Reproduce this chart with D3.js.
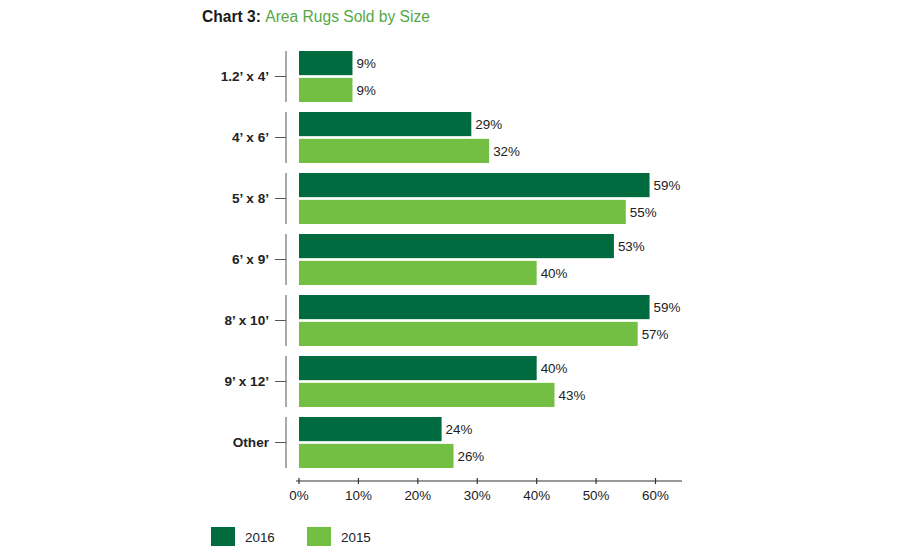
<!DOCTYPE html>
<html>
<head>
<meta charset="utf-8">
<script src="https://cdn.jsdelivr.net/npm/d3@7"></script>
<style>
  body { margin: 0; background: #fff; }
  text { font-family: "Liberation Sans", Arial, Helvetica, sans-serif; }
</style>
</head>
<body>
<div id="chart"></div>
<script>
// data
let categories = ["1.2\u2019 x 4\u2019", "4\u2019 x 6\u2019", "5\u2019 x 8\u2019", "6\u2019 x 9\u2019", "8\u2019 x 10\u2019", "9\u2019 x 12\u2019", "Other"];
let seriesNames = ["2016", "2015"];
let values2016 = [9, 29, 59, 53, 59, 40, 24];
let values2015 = [9, 32, 55, 40, 57, 43, 26];
let xTicks = [0, 10, 20, 30, 40, 50, 60];

let colors = {"2016": "#006b3f", "2015": "#72bf44"};

let w = 900, h = 550;

let svg = d3.select("#chart")
    .append("svg")
    .attr("width", w)
    .attr("height", h);

// title
let title = svg.append("text")
    .attr("x", 202)
    .attr("y", 22)
    .style("font-size", "15.6px");
title.append("tspan").text("Chart 3: ").attr("font-weight", "bold").attr("fill", "#1a1a1a");
title.append("tspan").text("Area Rugs Sold by Size").attr("fill", "#55a946");

let xScale = d3.scaleLinear()
    .domain([0, 60])
    .range([299, 655.5]);

let step = 61;
let yScale = d3.scaleBand()
    .domain(categories)
    .range([46, 46 + step * categories.length])
    .paddingInner(10 / step)
    .paddingOuter(5 / step);

let sub = d3.scaleBand()
    .domain(seriesNames)
    .range([0, yScale.bandwidth()])
    .paddingInner(0.1);

let rows = categories.map((c, i) => ({
    cat: c,
    vals: [{key: "2016", value: values2016[i]}, {key: "2015", value: values2015[i]}]
}));

let groups = svg.append("g")
    .selectAll("g")
    .data(rows)
    .join("g")
    .attr("transform", d => "translate(0," + yScale(d.cat) + ")");

groups.selectAll("rect")
    .data(d => d.vals)
    .join("rect")
    .attr("x", xScale(0))
    .attr("y", d => sub(d.key))
    .attr("width", d => xScale(d.value) - xScale(0))
    .attr("height", sub.bandwidth())
    .attr("fill", d => colors[d.key]);

groups.selectAll("text.val")
    .data(d => d.vals)
    .join("text")
    .attr("class", "val")
    .attr("x", d => xScale(d.value) + 4)
    .attr("y", d => sub(d.key) + sub.bandwidth() / 2)
    .attr("dy", "0.36em")
    .style("font-size", "13.4px")
    .attr("fill", "#222")
    .text(d => d.value + "%");

// category brackets
groups.append("line")
    .attr("x1", 286).attr("x2", 286)
    .attr("y1", 0).attr("y2", yScale.bandwidth())
    .attr("stroke", "#555").attr("stroke-width", 1);

groups.append("line")
    .attr("x1", 275).attr("x2", 286)
    .attr("y1", yScale.bandwidth() / 2).attr("y2", yScale.bandwidth() / 2)
    .attr("stroke", "#555").attr("stroke-width", 1);

groups.append("text")
    .attr("x", 269)
    .attr("y", yScale.bandwidth() / 2)
    .attr("dy", "0.36em")
    .attr("text-anchor", "end")
    .attr("font-weight", "bold")
    .style("font-size", "13.6px")
    .attr("fill", "#222")
    .text(d => d.cat);

// x axis
let xaxis = svg.append("g")
    .attr("id", "x-axis")
    .attr("transform", "translate(0,481)");

xaxis.append("line")
    .attr("x1", 296).attr("x2", 682)
    .attr("stroke", "#333").attr("stroke-width", 1.2);

xaxis.selectAll("line.tick")
    .data(xTicks)
    .join("line")
    .attr("class", "tick")
    .attr("x1", d => xScale(d)).attr("x2", d => xScale(d))
    .attr("y1", -3).attr("y2", 3)
    .attr("stroke", "#333").attr("stroke-width", 1.2);

xaxis.selectAll("text")
    .data(xTicks)
    .join("text")
    .attr("x", d => xScale(d))
    .attr("y", 19)
    .attr("text-anchor", "middle")
    .style("font-size", "13.4px")
    .attr("fill", "#222")
    .text(d => d + "%");

// legend
let legend = svg.append("g")
    .selectAll("g")
    .data(seriesNames)
    .join("g")
    .attr("transform", (d, i) => "translate(" + (211 + i * 96) + ",527)");

legend.append("rect")
    .attr("width", 24)
    .attr("height", 19)
    .attr("fill", d => colors[d]);

legend.append("text")
    .attr("x", 34)
    .attr("y", 10)
    .attr("dy", "0.36em")
    .style("font-size", "13.4px")
    .attr("fill", "#222")
    .text(d => d);
</script>
</body>
</html>
